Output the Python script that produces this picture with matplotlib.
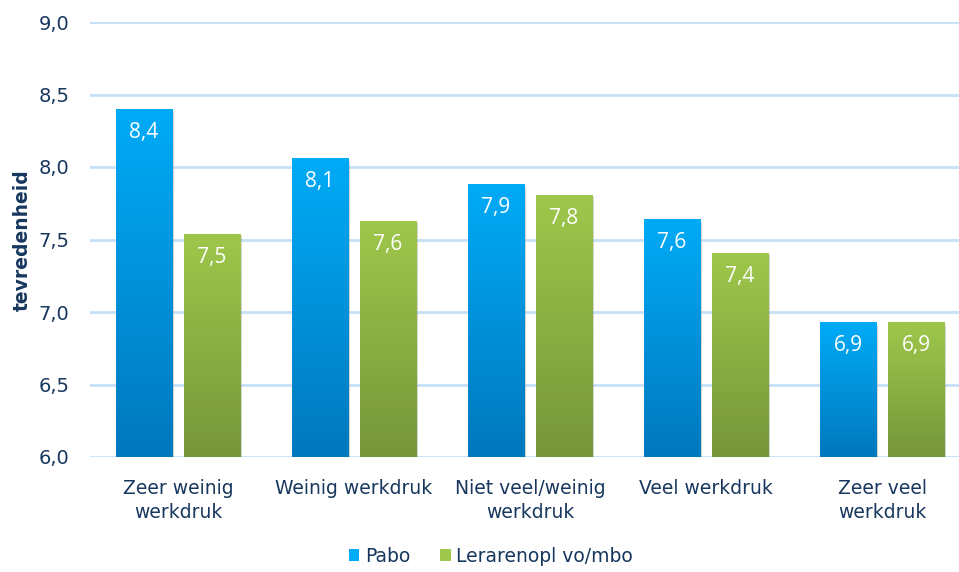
import numpy as np
import matplotlib
matplotlib.use("Agg")
import matplotlib.pyplot as plt
from matplotlib.colors import LinearSegmentedColormap
from matplotlib.patches import Patch
import matplotlib.patheffects as pe

categories = ["Zeer weinig\nwerkdruk", "Weinig werkdruk", "Niet veel/weinig\nwerkdruk",
              "Veel werkdruk", "Zeer veel\nwerkdruk"]
series_names = ["Pabo", "Lerarenopl vo/mbo"]
pabo = [8.40, 8.06, 7.88, 7.64, 6.93]
lerarenopl = [7.54, 7.63, 7.81, 7.41, 6.93]
y_ticks = [6.0, 6.5, 7.0, 7.5, 8.0, 8.5, 9.0]

text_color = "#17375e"
grid_color = "#c6e0fa"
blue_grad = ("#0078bd", "#00abf7")
green_grad = ("#76963a", "#9fc74b")

plt.rcParams["font.family"] = ["DejaVu Sans"]

fig = plt.figure(figsize=(9.59, 5.72), dpi=100)
ax = fig.add_axes([90 / 959, 1 - 457 / 572, 869 / 959, (457 - 22) / 572])

ymin, ymax = 6.0, 9.0
ax.set_ylim(ymin, ymax)
ax.set_xlim(-0.5, 4.4375)

width = 0.32
offset = 0.193
x = np.arange(len(categories))

grad = np.linspace(0, 1, 256).reshape(-1, 1)


def gradient_bars(xs, values, colors):
    cmap = LinearSegmentedColormap.from_list("g", list(colors))
    bars = ax.bar(xs, [v - ymin for v in values], width, bottom=ymin,
                  color=colors[1], zorder=3)
    for b, v in zip(bars, values):
        b.set_path_effects([pe.SimplePatchShadow(offset=(1.5, -2), shadow_rgbFace="#888888",
                                                 alpha=0.35), pe.Normal()])
        x0 = b.get_x()
        im = ax.imshow(grad, cmap=cmap, origin="lower", aspect="auto",
                       extent=[x0, x0 + width, ymin, v], zorder=4)
        im.set_clip_path(b)
        ax.text(x0 + width / 2, v - 0.09, f"{v:.1f}".replace(".", ","),
                ha="center", va="top", color="white", fontsize=15,
                family="Open Sans", zorder=5)
    return bars


gradient_bars(x - offset, pabo, blue_grad)
gradient_bars(x + offset, lerarenopl, green_grad)

ax.set_yticks(y_ticks)
ax.set_yticklabels([f"{t:.1f}".replace(".", ",") for t in y_ticks],
                   fontsize=14, color=text_color)
ax.set_xticks(x)
ax.set_xticklabels(categories, fontsize=13.5, color=text_color, linespacing=1.3)
ax.tick_params(axis="both", length=0)
ax.tick_params(axis="y", pad=15)
ax.tick_params(axis="x", pad=16)

ax.grid(axis="y", color=grid_color, linewidth=2, zorder=0)
ax.set_axisbelow(True)
for s in ax.spines.values():
    s.set_visible(False)

fig.text(22 / 959, 1 - 240 / 572, "tevredenheid", rotation=90, ha="center", va="center",
         fontsize=13.5, fontweight="bold", color=text_color)

handles = [Patch(facecolor=blue_grad[1], label=series_names[0]),
           Patch(facecolor=green_grad[1], label=series_names[1])]
leg = fig.legend(handles=handles, loc="center", bbox_to_anchor=(491 / 959, 1 - 556 / 572),
                 ncol=2, frameon=False, fontsize=13.5, handlelength=0.55, handleheight=0.55,
                 handletextpad=0.3, columnspacing=1.6)
for t in leg.get_texts():
    t.set_color(text_color)

fig.savefig("out.png", dpi=100)
